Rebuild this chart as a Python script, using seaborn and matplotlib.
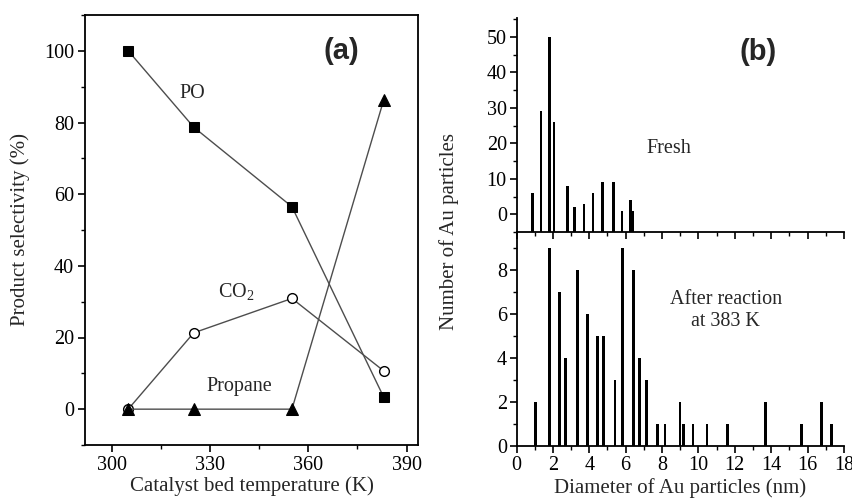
import numpy as np
import matplotlib
matplotlib.use("Agg")
import matplotlib.pyplot as plt
import seaborn as sns
from matplotlib.ticker import MultipleLocator

# ---------------- data ----------------
temperature = [305, 325, 355, 383]
po_sel = [100, 78.7, 56.5, 3.4]
co2_sel = [0, 21.3, 30.9, 10.7]
propane_sel = [0, 0, 0, 86.2]

fresh_diam = [0.88, 1.36, 1.81, 2.05, 2.80, 3.19, 3.70, 4.22, 4.73, 5.33, 5.81, 6.27, 6.41]
fresh_count = [6, 29, 50, 26, 8, 2, 3, 6, 9, 9, 1, 4, 1]

after_diam = [1.06, 1.83, 2.36, 2.71, 3.34, 3.89, 4.44, 4.78, 5.41, 5.81, 6.43, 6.78,
              7.13, 7.75, 8.16, 8.98, 9.18, 9.70, 10.47, 11.58, 13.69, 15.65, 16.77, 17.32]
after_count = [2, 9, 7, 4, 8, 6, 5, 5, 3, 9, 8, 4, 3, 1, 1, 2, 1, 1, 1, 1, 2, 1, 2, 1]

x_ticks_a = [300, 330, 360, 390]
y_ticks_a = [0, 20, 40, 60, 80, 100]
x_ticks_b = list(range(0, 19, 2))

# ---------------- style ----------------
sns.set_style("ticks")
plt.rcParams["font.family"] = ["Liberation Serif", "DejaVu Serif"]
plt.rcParams["mathtext.fontset"] = "custom"
plt.rcParams["mathtext.rm"] = "Liberation Serif"
plt.rcParams["axes.linewidth"] = 1.3
plt.rcParams["axes.edgecolor"] = "black"
plt.rcParams["xtick.color"] = "black"
plt.rcParams["ytick.color"] = "black"

W, H = 853, 500
fig = plt.figure(figsize=(W / 100, H / 100), dpi=100)


def box(l, t, r, b):
    return [l / W, 1 - b / H, (r - l) / W, (b - t) / H]


axA = fig.add_axes(box(85, 15, 418, 445))
axT = fig.add_axes(box(516.5, 18, 844, 232))
axB = fig.add_axes(box(516.5, 232, 844, 446))
axB.set_facecolor("none")

TICK_FS = 14.5
LABEL_FS = 15
ANN_FS = 14.5

# ---------------- panel (a) ----------------
line_c = "0.3"
sns.lineplot(x=temperature, y=po_sel, ax=axA, color=line_c, lw=1.0, marker="s",
             ms=7, mfc="black", mec="black", zorder=3)
sns.lineplot(x=temperature, y=co2_sel, ax=axA, color=line_c, lw=1.0, marker="o",
             ms=7, mfc="white", mec="black", mew=1.0, zorder=3)
sns.lineplot(x=temperature, y=propane_sel, ax=axA, color=line_c, lw=1.0, marker="^",
             ms=8, mfc="black", mec="black", zorder=4)

axA.set_xlim(291.8, 393.5)
axA.set_ylim(-10, 110)
axA.set_xticks(x_ticks_a)
axA.set_yticks(y_ticks_a)
axA.xaxis.set_minor_locator(MultipleLocator(15))
axA.yaxis.set_minor_locator(MultipleLocator(10))
axA.tick_params(axis="both", which="major", direction="out", length=5, width=1.2,
                labelsize=TICK_FS, pad=3)
axA.tick_params(axis="both", which="minor", direction="out", length=3, width=1.0)
for s in axA.spines.values():
    s.set_visible(True)
axA.set_xlabel("Catalyst bed temperature (K)", fontsize=LABEL_FS)
axA.set_ylabel("Product selectivity (%)", fontsize=LABEL_FS)
axA.xaxis.set_label_coords(0.5, -0.072)
axA.yaxis.set_label_coords(-0.165, 0.5)

axA.text(370, 100, "(a)", fontsize=21, fontweight="bold", family="Liberation Sans",
         ha="center", va="center")
axA.text(324.7, 88, "PO", fontsize=ANN_FS, ha="center", va="center")
axA.text(338, 32.5, "CO$_\\mathrm{2}$", fontsize=ANN_FS, ha="center", va="center")
axA.text(339, 6.3, "Propane", fontsize=ANN_FS, ha="center", va="center")

# ---------------- panel (b) ----------------
sns.barplot(x=fresh_diam, y=fresh_count, ax=axT, native_scale=True, orient="x",
            width=0.12 / np.min(np.diff(np.sort(fresh_diam))), color="black",
            saturation=1, errorbar=None, linewidth=0)
sns.barplot(x=after_diam, y=after_count, ax=axB, native_scale=True, orient="x",
            width=0.15 / np.min(np.diff(np.sort(after_diam))), color="black",
            saturation=1, errorbar=None, linewidth=0)

# top panel bars start at the axis floor
top_floor = -5
for p in axT.patches:
    p.set_height(p.get_height() - top_floor)
    p.set_y(top_floor)

for ax in (axT, axB):
    ax.set_xlim(0, 18)
    ax.set_xticks(x_ticks_b)
    ax.xaxis.set_minor_locator(MultipleLocator(1))
    ax.spines["top"].set_visible(False)
    ax.spines["right"].set_visible(False)
    ax.tick_params(axis="both", which="major", direction="out", length=5, width=1.2,
                   labelsize=TICK_FS, pad=2)
    ax.tick_params(axis="both", which="minor", direction="out", length=3, width=1.0)
    ax.set_xlabel("")
    ax.set_ylabel("")

axT.set_ylim(-5, 55.3)
axT.set_yticks([0, 10, 20, 30, 40, 50])
axT.yaxis.set_minor_locator(MultipleLocator(5))
axT.tick_params(axis="x", labelbottom=False)

axB.set_ylim(0, 9.73)
axB.set_yticks([0, 2, 4, 6, 8])
axB.yaxis.set_minor_locator(MultipleLocator(1))
axB.set_xlabel("Diameter of Au particles (nm)", fontsize=LABEL_FS)
axB.xaxis.set_label_coords(0.5, -0.15)

fig.text(449 / W, 1 - 232 / H, "Number of Au particles", rotation=90, fontsize=LABEL_FS,
         ha="center", va="center")

axT.text(13.3, 45.7, "(b)", fontsize=21, fontweight="bold", family="Liberation Sans",
         ha="center", va="center")
axT.text(8.37, 18.4, "Fresh", fontsize=ANN_FS, ha="center", va="center")
axB.text(11.5, 6.15, "After reaction\nat 383 K", fontsize=ANN_FS, ha="center", va="center",
         multialignment="center", linespacing=1.25)

fig.savefig("out.png", dpi=100)
